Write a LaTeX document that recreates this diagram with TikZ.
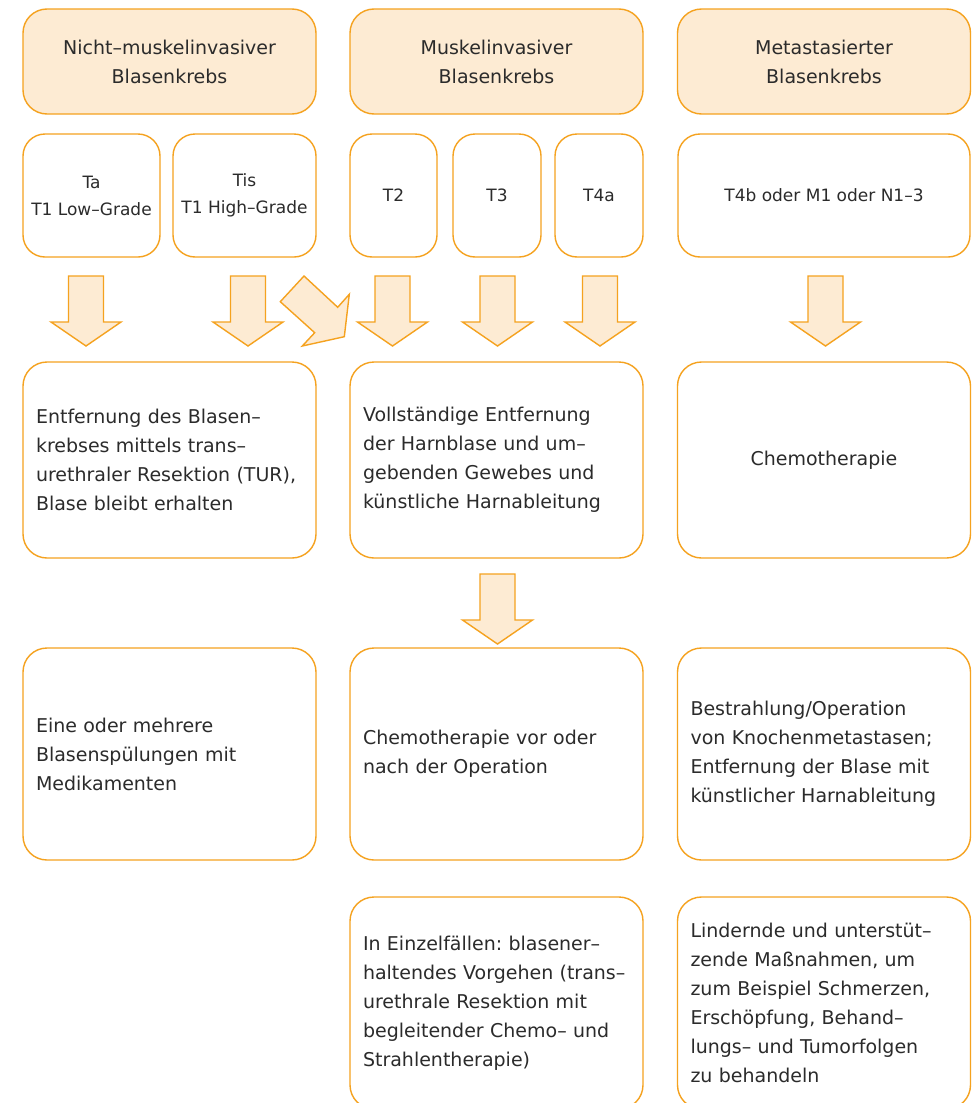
\documentclass[tikz,border=0pt]{standalone}
\usepackage{fontspec}
\setmainfont{DejaVu Sans}
\frenchspacing
\definecolor{boxline}{HTML}{F5A21F}
\definecolor{boxfill}{HTML}{FDEBD3}
\definecolor{txt}{HTML}{2B2B2B}
\tikzset{
  box/.style={draw=boxline, line width=1.4pt, rounded corners=24pt, text=txt, inner sep=0pt,
    font=\fontsize{19}{29}\selectfont},
  headbox/.style={box, fill=boxfill, minimum width=293pt, minimum height=105pt, align=center},
  stagebox/.style={box, minimum height=123pt, align=center, rounded corners=22pt,
    font=\fontsize{17}{27}\selectfont},
  bodybox/.style={box, minimum height=#1, text width=267pt, inner xsep=13pt, align=left},
  centerbox/.style={box, minimum height=#1, text width=267pt, inner xsep=13pt, align=center},
  arrowshape/.style={draw=boxline, fill=boxfill, line width=1.4pt, line join=miter},
  blockdown/.pic={\path[arrowshape] (-17.5,0) -- (17.5,0) -- (17.5,46) -- (35,46) -- (0,70)
     -- (-35,46) -- (-17.5,46) -- cycle;}
}
\begin{document}
\begin{tikzpicture}[x=1pt,y=-1pt]
\useasboundingbox[fill=white] (0,0) rectangle (975,1103);

% headers
\node[headbox] (h1) at (169.5,61.5) {Nicht–muskelinvasiver\\Blasenkrebs};
\node[headbox] (h2) at (496.5,61.5) {Muskelinvasiver\\Blasenkrebs};
\node[headbox] (h3) at (824,61.5) {Metastasierter\\Blasenkrebs};

% stages
\node[stagebox, minimum width=137pt] (ta) at (91.5,195.5) {Ta\\T1 Low–Grade};
\node[stagebox, minimum width=143pt] (tis) at (244.5,195.5) {Tis\\T1 High–Grade};
\node[stagebox, minimum width=87pt] (t2) at (393.5,195.5) {T2};
\node[stagebox, minimum width=88pt] (t3) at (497,195.5) {T3};
\node[stagebox, minimum width=88pt] (t4a) at (599,195.5) {T4a};
\node[stagebox, minimum width=292pt] (t4b) at (824,195.5) {T4b oder M1 oder N1–3};

% arrows row 2 -> row 3
\pic at (86,276) {blockdown};
\pic at (248,276) {blockdown};
\path[arrowshape] (304,276) -- (337.7,307.3) -- (349.3,294.3) -- (344.3,336.7) -- (302.3,346)
   -- (314.7,332.7) -- (280.3,301.7) -- cycle;
\pic at (392.5,276) {blockdown};
\pic at (497.5,276) {blockdown};
\pic at (600,276) {blockdown};
\pic at (825.5,276) {blockdown};

% row 3
\node[bodybox=196pt] (r3a) at (169.5,460) {Entfernung des Blasen–\\krebses mittels trans–\\urethraler Resektion (TUR),\\Blase bleibt erhalten};
\node[bodybox=196pt] (r3b) at (496.5,460) {Vollständige Entfernung\\der Harnblase und um–\\gebenden Gewebes und\\künstliche Harnableitung};
\node[centerbox=196pt] (r3c) at (824,460) {Chemotherapie};

% arrow row 3 -> row 4
\pic at (497.5,574) {blockdown};

% row 4
\node[bodybox=212pt] (r4a) at (169.5,754) {Eine oder mehrere\\Blasenspülungen mit\\Medikamenten};
\node[bodybox=212pt] (r4b) at (496.5,754) {Chemotherapie vor oder\\nach der Operation};
\node[bodybox=212pt] (r4c) at (824,754) {Bestrahlung/Operation\\von Knochenmetastasen;\\Entfernung der Blase mit\\künstlicher Harnableitung};

% row 5
\node[bodybox=212pt] (r5b) at (496.5,1003) {In Einzelfällen: blasener–\\haltendes Vorgehen (trans–\\urethrale Resektion mit\\begleitender Chemo– und\\Strahlentherapie)};
\node[bodybox=212pt] (r5c) at (824,1003) {Lindernde und unterstüt–\\zende Maßnahmen, um\\zum Beispiel Schmerzen,\\Erschöpfung, Behand–\\lungs– und Tumorfolgen\\zu behandeln};
\end{tikzpicture}
\end{document}
